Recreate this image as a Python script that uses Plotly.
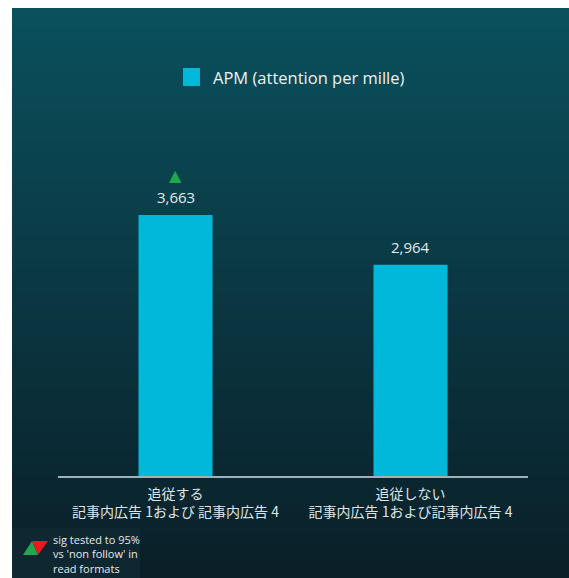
import plotly.graph_objects as go

# Data
categories = ["追従する<br>記事内広告 1および 記事内広告 4",
              "追従しない<br>記事内広告 1および記事内広告 4"]
apm_values = [3663, 2964]
sig_higher = [True, False]
series_name = "APM (attention per mille)"
note_lines = ["sig tested to 95%", "vs 'non follow' in", "read formats"]

W, H = 569, 578
L, R, T, B = 58, 41, 100, 102
PW, PH = W - L - R, H - T - B
YMAX = 5277
FONT = "Open Sans"


def px(x):
    return (x - L) / PW


def py(y):
    return (H - B - y) / PH


def lerp(c1, c2, t):
    return "#%02x%02x%02x" % tuple(round(a + (b - a) * t) for a, b in zip(c1, c2))


shapes = []
# vertical gradient background panel: each band runs to the bottom so the
# next one covers it without seams
top_c, bot_c = (0x0a, 0x50, 0x5d), (0x0a, 0x1f, 0x28)
n = 90
y0 = 8
for i in range(n):
    ya = y0 + (H - y0) * i / n
    shapes.append(dict(type="rect", xref="paper", yref="paper", layer="below",
                       x0=px(12), x1=px(W + 2), y0=py(ya), y1=py(H + 2),
                       fillcolor=lerp(top_c, bot_c, i / (n - 1)), line_width=0))

# note box at the bottom left
shapes.append(dict(type="rect", xref="paper", yref="paper", layer="below",
                   x0=px(12), x1=px(140), y0=py(528), y1=py(H + 2),
                   fillcolor="#0e2730", line_width=0))
# red/green significance icon
shapes.append(dict(type="path", xref="paper", yref="paper",
                   path=f"M {px(23)},{py(555)} L {px(32)},{py(541)} L {px(38)},{py(555)} Z",
                   fillcolor="#1fa84f", line_width=0))
shapes.append(dict(type="path", xref="paper", yref="paper",
                   path=f"M {px(32)},{py(541)} L {px(48)},{py(541)} L {px(38)},{py(555)} Z",
                   fillcolor="#e8191f", line_width=0))
# legend swatch
shapes.append(dict(type="rect", xref="paper", yref="paper",
                   x0=px(183), x1=px(200), y0=py(86), y1=py(68),
                   fillcolor="#00b8d9", line_width=0))

fig = go.Figure()
fig.add_trace(go.Bar(
    x=categories, y=apm_values, name=series_name,
    marker=dict(color="#00b8d9", line_width=0),
    showlegend=False,
))

annotations = [
    dict(xref="paper", yref="paper", x=px(211), y=py(77), xanchor="left", yanchor="middle",
         text=series_name, showarrow=False,
         font=dict(family=FONT, size=16.5, color="#eef2f3")),
    dict(xref="paper", yref="paper", x=px(51), y=py(554), xanchor="left", yanchor="middle",
         text="<br>".join(note_lines), showarrow=False, align="left",
         font=dict(family=FONT, size=11, color="#e6eaec")),
]
for cat, v, s in zip(categories, apm_values, sig_higher):
    # value label above each bar
    annotations.append(dict(x=cat, y=v, xref="x", yref="y", text=f"{v:,}", showarrow=False,
                            yanchor="bottom", yshift=6,
                            font=dict(family=FONT, size=15, color="#e6eaec")))
    if s:
        annotations.append(dict(x=cat, y=v, xref="x", yref="y", text="▲", showarrow=False,
                                yanchor="bottom", yshift=28,
                                font=dict(family="DejaVu Sans", size=16, color="#1fa84f")))

fig.update_layout(
    width=W, height=H,
    margin=dict(l=L, r=R, t=T, b=B),
    paper_bgcolor="white", plot_bgcolor="rgba(0,0,0,0)",
    bargap=0.685,
    shapes=shapes, annotations=annotations,
    xaxis=dict(showgrid=False, showline=True, linecolor="#9db3bb", linewidth=1.5,
               ticks="", ticklabelstandoff=4,
               tickfont=dict(family="Noto Sans CJK JP", size=14, color="#dfe4e6")),
    yaxis=dict(range=[0, YMAX], visible=False, showgrid=False, zeroline=False),
)

fig.write_html("out.html")
